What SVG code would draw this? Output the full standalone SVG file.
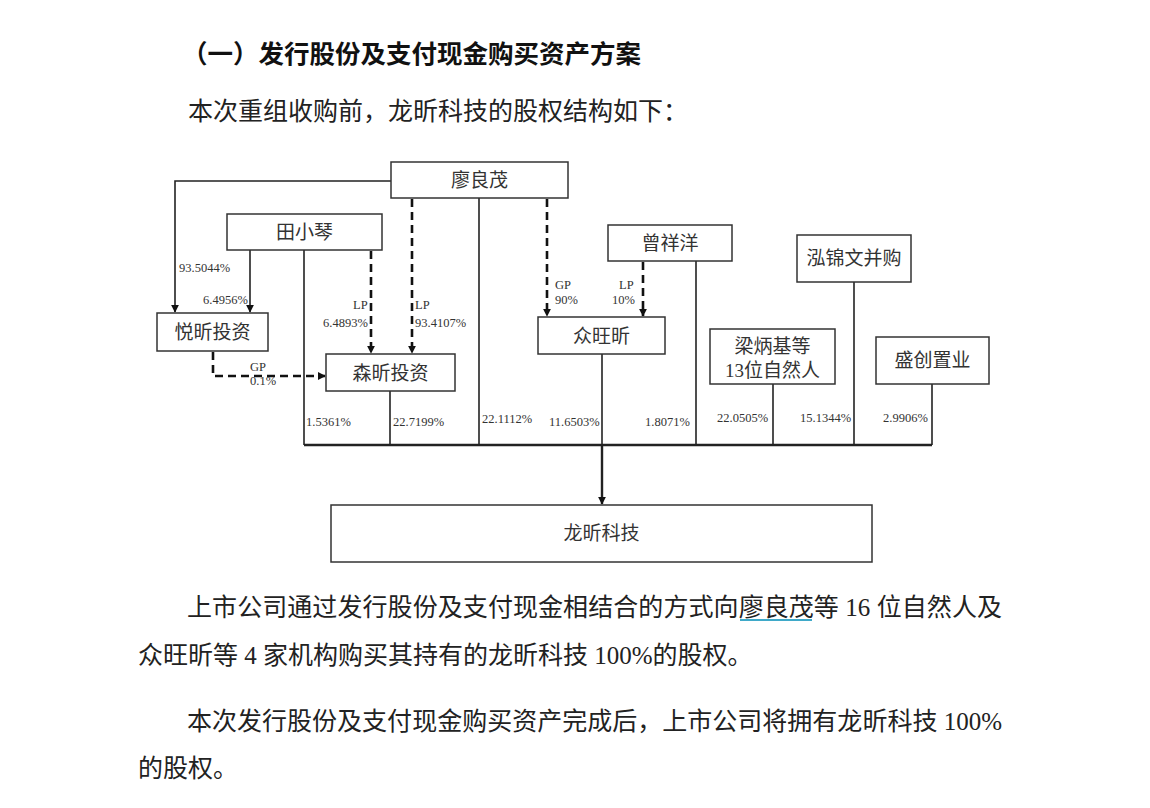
<svg xmlns="http://www.w3.org/2000/svg" width="1150" height="808" viewBox="0 0 1150 808">
<defs>
<marker id="arr" viewBox="0 0 10 10" refX="9" refY="5" markerWidth="8" markerHeight="8" markerUnits="userSpaceOnUse" orient="auto"><path d="M0,0 L10,5 L0,10 z" fill="#111"/></marker>
</defs>
<style>
.box{fill:#fff;stroke:#333;stroke-width:1.5}
.bl{font-family:"Liberation Serif","Noto Sans CJK SC",serif;font-size:19px;fill:#333;text-anchor:middle}
.pct{font-family:"Liberation Serif","Noto Sans CJK SC",serif;font-size:12.5px;fill:#333}
.ln{fill:none;stroke:#222;stroke-width:1.6}
.bus{fill:none;stroke:#222;stroke-width:2.4}
.ds{fill:none;stroke:#111;stroke-width:2.6;stroke-dasharray:8 5}
.para{font-family:"Liberation Serif","Noto Sans CJK SC",serif;font-size:25px;fill:#222}
.title{font-family:"Liberation Serif","Noto Sans CJK SC",serif;font-size:25.5px;font-weight:bold;fill:#111}
</style>
<rect width="1150" height="808" fill="#fff"/>

<text class="title" x="182" y="63">（一）发行股份及支付现金购买资产方案</text>
<text class="para" x="188" y="120">本次重组收购前，龙昕科技的股权结构如下：</text>

<g id="connectors">
  <path class="ln" d="M304,250 V445"/>
  <path class="ln" d="M390,391 V445"/>
  <path class="ln" d="M479,198 V445"/>
  <path class="ln" d="M602,354 V445"/>
  <path class="ln" d="M696,261 V445"/>
  <path class="ln" d="M773,384 V445"/>
  <path class="ln" d="M854,282 V445"/>
  <path class="ln" d="M932,384 V445"/>
  <path class="bus" d="M304,445 H932"/>
  <path class="bus" d="M602,445 V504" marker-end="url(#arr)"/>
  <path class="ln" d="M391,181 H175 V312" marker-end="url(#arr)"/>
  <path class="ln" d="M250,250 V312" marker-end="url(#arr)"/>
  <path class="ds" d="M371,251 V353" marker-end="url(#arr)"/>
  <path class="ds" d="M412,199 V353" marker-end="url(#arr)"/>
  <path class="ds" d="M213,352 V376 H325" marker-end="url(#arr)"/>
  <path class="ds" d="M547,199 V316" marker-end="url(#arr)"/>
  <path class="ds" d="M643,262 V316" marker-end="url(#arr)"/>
  <text class="pct" x="179" y="272">93.5044%</text>
  <text class="pct" x="203" y="304">6.4956%</text>
  <text class="pct" x="353" y="309">LP</text>
  <text class="pct" x="323" y="327">6.4893%</text>
  <text class="pct" x="415" y="309">LP</text>
  <text class="pct" x="415" y="327">93.4107%</text>
  <text class="pct" x="250" y="371">GP</text>
  <text class="pct" x="250" y="385">0.1%</text>
  <text class="pct" x="555" y="289">GP</text>
  <text class="pct" x="555" y="304">90%</text>
  <text class="pct" x="619" y="289">LP</text>
  <text class="pct" x="612" y="304">10%</text>
  <text class="pct" x="306" y="426">1.5361%</text>
  <text class="pct" x="393" y="426">22.7199%</text>
  <text class="pct" x="482" y="423">22.1112%</text>
  <text class="pct" x="549" y="426">11.6503%</text>
  <text class="pct" x="645" y="426">1.8071%</text>
  <text class="pct" x="717" y="422">22.0505%</text>
  <text class="pct" x="800" y="422">15.1344%</text>
  <text class="pct" x="883" y="422">2.9906%</text>
</g>

<g id="liaoliangmao"><rect class="box" x="391" y="162" width="177" height="36"/><text class="bl" x="479.5" y="187">廖良茂</text></g>
<g id="tianxiaoqin"><rect class="box" x="227" y="214" width="155" height="36"/><text class="bl" x="304.5" y="239">田小琴</text></g>
<g id="yuexin"><rect class="box" x="157" y="313" width="111" height="38"/><text class="bl" x="212.5" y="339">悦昕投资</text></g>
<g id="senxin"><rect class="box" x="326" y="354" width="129" height="37"/><text class="bl" x="390.5" y="380">森昕投资</text></g>
<g id="zhongwangxin"><rect class="box" x="538" y="317" width="127" height="37"/><text class="bl" x="601.5" y="343">众旺昕</text></g>
<g id="zengxiangyang"><rect class="box" x="608" y="225" width="124" height="36"/><text class="bl" x="670" y="250">曾祥洋</text></g>
<g id="hongjinwen"><rect class="box" x="797" y="235" width="114" height="47"/><text class="bl" x="854" y="265">泓锦文并购</text></g>
<g id="liangbingji"><rect class="box" x="710" y="329" width="125" height="55"/><text class="bl" x="772.5" y="353">梁炳基等</text><text class="bl" x="772.5" y="377">13位自然人</text></g>
<g id="shengchuang"><rect class="box" x="876" y="337" width="113" height="47"/><text class="bl" x="932.5" y="367">盛创置业</text></g>
<g id="longxin"><rect class="box" x="331" y="505" width="541" height="57"/><text class="bl" x="601.5" y="540">龙昕科技</text></g>

<text class="para" x="187" y="616" textLength="815" lengthAdjust="spacing">上市公司通过发行股份及支付现金相结合的方式向廖良茂等 16 位自然人及</text>
<line x1="740" y1="620" x2="812" y2="620" stroke="#3fa9c9" stroke-width="2"/>
<text class="para" x="138" y="664">众旺昕等 4 家机构购买其持有的龙昕科技 100%的股权。</text>
<text class="para" x="187" y="730" textLength="815" lengthAdjust="spacing">本次发行股份及支付现金购买资产完成后，上市公司将拥有龙昕科技 100%</text>
<text class="para" x="138" y="777">的股权。</text>
</svg>
